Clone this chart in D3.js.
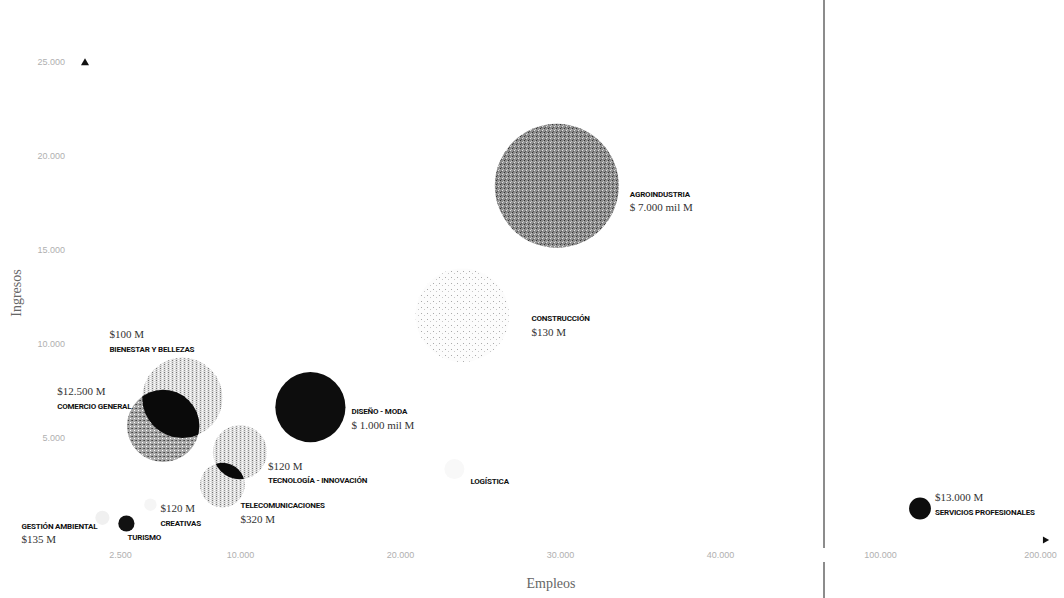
<!DOCTYPE html>
<html>
<head>
<meta charset="utf-8">
<script src="https://cdn.jsdelivr.net/npm/d3@7"></script>
<style>
  body { margin: 0; background: #fff; }
  svg { display: block; }
  .nombre { font-family: "Liberation Sans Narrow", "Roboto", sans-serif; font-weight: 700; font-size: 8px; fill: #111; letter-spacing: -0.2px; }
  .valor { font-family: "Liberation Serif", serif; font-size: 11px; fill: #333; }
  .tick text { font-family: "Liberation Sans", sans-serif; font-size: 9px; fill: #b0b0b0; }
  .titulo { font-family: "Liberation Serif", serif; font-size: 14px; fill: #666; }
</style>
</head>
<body>
<svg id="chart" width="1064" height="598"></svg>
<script>
// sectores y valores
const sectores = ["AGROINDUSTRIA", "CONSTRUCCIÓN", "DISEÑO - MODA", "BIENESTAR Y BELLEZAS",
  "COMERCIO GENERAL", "TECNOLOGÍA - INNOVACIÓN", "TELECOMUNICACIONES", "CREATIVAS",
  "GESTIÓN AMBIENTAL", "TURISMO", "LOGÍSTICA", "SERVICIOS PROFESIONALES"];
const empleos = [29800, 23900, 14400, 6400, 5200, 10000, 8900, 4400, 1400, 2900, 23400, 125000];
const ingresos = [18400, 11500, 6600, 7100, 5600, 4200, 2450, 1400, 700, 400, 3300, 1200];
const tamano = [100, 57, 32, 42, 34, 19, 13, 1, 1.3, 1.7, 2.6, 3.1];
const etiquetaValor = ["$ 7.000 mil M", "$130 M", "$ 1.000 mil M", "$100 M", "$12.500 M",
  "$120 M", "$320 M", "$120 M", "$135 M", "", "", "$13.000 M"];
const ticksY = [5000, 10000, 15000, 20000, 25000];
const ticksX = [2500, 10000, 20000, 30000, 40000];
const ticksX2 = [100000, 200000];
const cruces = [["COMERCIO GENERAL", "BIENESTAR Y BELLEZAS"], ["TECNOLOGÍA - INNOVACIÓN", "TELECOMUNICACIONES"]];

// layout de etiquetas: desplazamiento respecto al centro y si el valor va primero
const posEtiqueta = {
  "AGROINDUSTRIA": [73, 9, false],
  "CONSTRUCCIÓN": [69, 4, false],
  "DISEÑO - MODA": [41, 5, false],
  "BIENESTAR Y BELLEZAS": [-73, -62, true],
  "COMERCIO GENERAL": [-106, -33, true],
  "TECNOLOGÍA - INNOVACIÓN": [28, 15, true],
  "TELECOMUNICACIONES": [18, 21, false],
  "CREATIVAS": [10, 5, true],
  "GESTIÓN AMBIENTAL": [-81, 9, false],
  "TURISMO": [1, 14, false],
  "LOGÍSTICA": [16, 13, false],
  "SERVICIOS PROFESIONALES": [15, -10, true]
};

const W = 1064, H = 598, corte = 824;
const svg = d3.select('#chart');
const loc = d3.formatLocale({ decimal: ",", thousands: ".", grouping: [3], currency: ["$", ""] });
const fmt = loc.format(",");

const x = d3.scaleLinear().domain([0, 46500]).range([80, corte]);
const x2 = d3.scaleLinear().domain([65000, 215000]).range([corte, W]);
const y = d3.scaleLinear().domain([0, 25000]).range([531, 62]);
const r = d3.scaleSqrt().domain([0, 100]).range([0, 62]);
const px = (v) => v > x.domain()[1] ? x2(v) : x(v);

const relleno = d3.scaleOrdinal().domain(sectores)
  .range(["url(#trama-oscura)", "url(#trama-puntos)", "#0d0d0d", "url(#trama-clara)",
    "url(#trama-media)", "url(#trama-clara)", "url(#trama-clara)", "#f5f5f5",
    "#f0f0f0", "#111", "#f8f8f8", "#0d0d0d"]);

// tramas tipo impresion
const defs = svg.append('defs');
function trama(id, base, puntos, n = 4) {
  const p = defs.append('pattern').attr('id', id).attr('width', n).attr('height', n)
    .attr('patternUnits', 'userSpaceOnUse');
  p.append('rect').attr('width', n).attr('height', n).attr('fill', base);
  puntos.forEach(([a, b, c]) => p.append('rect').attr('x', a).attr('y', b)
    .attr('width', 1).attr('height', 1).attr('fill', c));
}
trama('trama-oscura', '#8e8e8e', [[0, 0, '#333'], [2, 2, '#e0e0e0'], [1, 3, '#555'], [3, 1, '#c4c4c4']]);
trama('trama-media', '#a8a8a8', [[0, 0, '#444'], [2, 2, '#fff'], [3, 0, '#666']]);
trama('trama-clara', '#dedede', [[0, 0, '#777'], [2, 2, '#fff'], [2, 0, '#fff'], [0, 2, '#999']]);
trama('trama-puntos', '#fcfcfc', [[1, 1, '#aaa'], [4, 3, '#c8c8c8']], 6);

// ejes
const gx = svg.append('g').attr('transform', 'translate(0,540)')
  .call(d3.axisBottom(x).tickValues(ticksX).tickSize(0).tickPadding(12).tickFormat(fmt));
const gx2 = svg.append('g').attr('transform', 'translate(0,540)')
  .call(d3.axisBottom(x2).tickValues(ticksX2).tickSize(0).tickPadding(12).tickFormat(fmt));
const gy = svg.append('g').attr('transform', 'translate(85,0)')
  .call(d3.axisLeft(y).tickValues(ticksY).tickSize(0).tickPadding(20).tickFormat(fmt));
[gx, gx2, gy].forEach(g => g.select('.domain').remove());

svg.append('path').attr('d', d3.symbol(d3.symbolTriangle, 28)())
  .attr('transform', `translate(85,${y(25000) + 1})`).attr('fill', '#111');
svg.append('path').attr('d', d3.symbol(d3.symbolTriangle, 22)())
  .attr('transform', 'translate(1045,540) rotate(90)').attr('fill', '#111');

// linea de corte del eje
svg.append('line').attr('x1', corte).attr('x2', corte).attr('y1', 0).attr('y2', 548)
  .attr('stroke', '#666').attr('stroke-width', 1.5);
svg.append('line').attr('x1', corte).attr('x2', corte).attr('y1', 562).attr('y2', H)
  .attr('stroke', '#666').attr('stroke-width', 1.5);

svg.append('text').attr('class', 'titulo').attr('x', 551).attr('y', 588)
  .attr('text-anchor', 'middle').text('Empleos');
svg.append('text').attr('class', 'titulo').attr('transform', 'translate(21,293) rotate(-90)')
  .attr('text-anchor', 'middle').text('Ingresos');

// burbujas
const datos = sectores.map((s, i) => ({
  sector: s, cx: px(empleos[i]), cy: y(ingresos[i]), r: r(tamano[i]), valor: etiquetaValor[i]
}));
const porSector = new Map(datos.map(d => [d.sector, d]));

svg.append('g').selectAll('circle').data(datos).join('circle')
  .attr('cx', d => d.cx).attr('cy', d => d.cy).attr('r', d => d.r)
  .attr('fill', d => relleno(d.sector));

// zonas de cruce en negro
cruces.forEach(([a, b], i) => {
  const A = porSector.get(a), B = porSector.get(b);
  defs.append('clipPath').attr('id', 'cruce' + i)
    .append('circle').attr('cx', A.cx).attr('cy', A.cy).attr('r', A.r);
  svg.append('circle').attr('cx', B.cx).attr('cy', B.cy).attr('r', B.r)
    .attr('clip-path', `url(#cruce${i})`).attr('fill', '#0a0a0a');
});

// etiquetas
const gl = svg.append('g');
datos.forEach(d => {
  const [dx, dy, valorPrimero] = posEtiqueta[d.sector];
  const lx = d.cx + dx, ly = d.cy + dy;
  const lineas = valorPrimero ? [['valor', d.valor], ['nombre', d.sector]] : [['nombre', d.sector], ['valor', d.valor]];
  let yy = ly;
  lineas.forEach(([cls, txt]) => {
    if (!txt) return;
    gl.append('text').attr('class', cls).attr('x', lx).attr('y', yy)
      .attr('dominant-baseline', 'middle').text(txt);
    yy += 14;
  });
});
</script>
</body>
</html>
